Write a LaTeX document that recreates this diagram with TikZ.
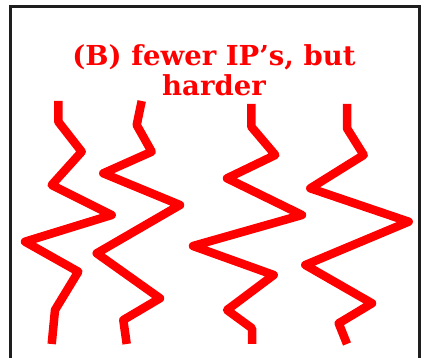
\documentclass[tikz,border=0pt]{standalone}
\usepackage{fontspec}
\newfontfamily\titlefont{DejaVu Serif}
\definecolor{pure}{RGB}{255,0,0}
\definecolor{framec}{RGB}{30,30,30}
\tikzset{
  zig/.style={draw=pure, line width=8.5pt, line join=round, line cap=butt},
  framebox/.style={draw=framec, line width=3pt},
  titletext/.style={text=pure, font=\titlefont\bfseries\fontsize{27.5}{30}\selectfont, align=center}
}
\begin{document}
\begin{tikzpicture}[x=1pt,y=-1pt]
\useasboundingbox (0,0) rectangle (424,358);
\draw[framebox] (10,362) -- (10,7) -- (419,7) -- (419,362);
\node[titletext] (title) at (214,70) {(B) fewer IP’s, but\\harder};
\draw[zig] (58.3,101) -- (58.3,121.7) -- (81.7,151.7) -- (51.7,185) -- (111.7,215) -- (25,241.7) -- (78.3,271.7) -- (55,310) -- (51.7,344);
\draw[zig] (141.7,101) -- (136.7,125) -- (151.7,151.7) -- (103.3,173.3) -- (180,205) -- (96.7,253.3) -- (160,298.3) -- (123.3,320) -- (126.7,344);
\draw[zig] (251.3,104) -- (251.3,126.7) -- (275.3,155) -- (227,178.3) -- (302,215) -- (193,246) -- (273.7,275) -- (227,310) -- (252,328.3) -- (252,344);
\draw[zig] (347,104) -- (347,128.3) -- (363.7,155) -- (310.3,188.3) -- (408.7,221.7) -- (305.3,265) -- (372,303.3) -- (338.7,323.3) -- (347,344);
\end{tikzpicture}
\end{document}
